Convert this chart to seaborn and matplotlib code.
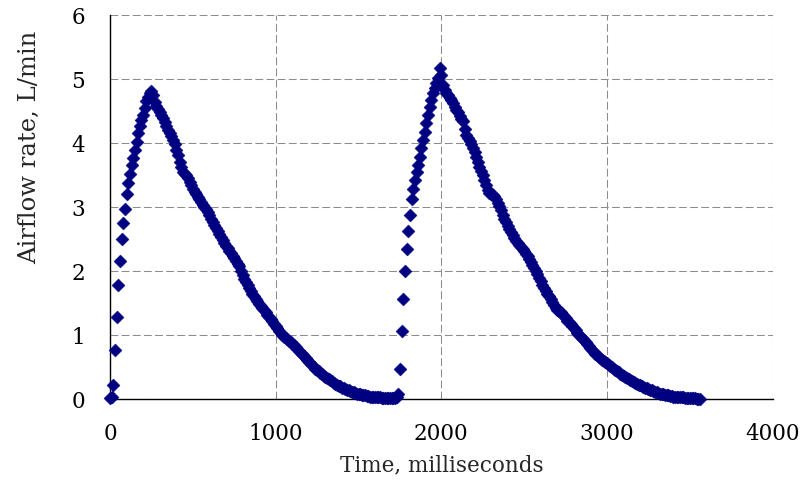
import numpy as np
import pandas as pd
import matplotlib
matplotlib.use("Agg")
import matplotlib.pyplot as plt
import seaborn as sns

# airflow readings, one every 10 ms (each row = 100 ms)
sample_ms = 10
airflow = [
    0.02, 0.04, 0.22, 0.77, 1.29, 1.78, 2.16, 2.50, 2.76, 2.97,   # 0
    3.21, 3.38, 3.52, 3.66, 3.76, 3.89, 4.02, 4.15, 4.26, 4.36,   # 100
    4.44, 4.55, 4.66, 4.72, 4.78, 4.82, 4.75, 4.64, 4.58, 4.53,   # 200
    4.48, 4.44, 4.39, 4.33, 4.27, 4.21, 4.16, 4.11, 4.05, 3.99,   # 300
    3.90, 3.82, 3.71, 3.62, 3.55, 3.52, 3.50, 3.46, 3.40, 3.34,   # 400
    3.29, 3.24, 3.20, 3.16, 3.12, 3.08, 3.04, 3.00, 2.97, 2.92,   # 500
    2.87, 2.82, 2.77, 2.72, 2.67, 2.63, 2.58, 2.54, 2.49, 2.44,   # 600
    2.40, 2.36, 2.32, 2.28, 2.24, 2.20, 2.16, 2.12, 2.08, 2.01,   # 700
    1.94, 1.88, 1.83, 1.78, 1.73, 1.69, 1.65, 1.61, 1.57, 1.53,   # 800
    1.49, 1.46, 1.42, 1.39, 1.36, 1.32, 1.29, 1.26, 1.22, 1.18,   # 900
    1.15, 1.11, 1.07, 1.03, 1.00, 0.98, 0.96, 0.94, 0.91, 0.89,   # 1000
    0.86, 0.84, 0.82, 0.79, 0.76, 0.73, 0.70, 0.67, 0.64, 0.61,   # 1100
    0.58, 0.56, 0.53, 0.51, 0.48, 0.46, 0.44, 0.41, 0.39, 0.37,   # 1200
    0.35, 0.33, 0.31, 0.30, 0.28, 0.26, 0.24, 0.23, 0.21, 0.20,   # 1300
    0.18, 0.17, 0.16, 0.15, 0.14, 0.13, 0.12, 0.11, 0.10, 0.09,   # 1400
    0.08, 0.08, 0.07, 0.06, 0.06, 0.05, 0.05, 0.04, 0.04, 0.04,   # 1500
    0.03, 0.03, 0.03, 0.03, 0.02, 0.02, 0.02, 0.02, 0.02, 0.02,   # 1600
    0.02, 0.02, 0.02, 0.03, 0.08, 0.48, 1.07, 1.56, 2.00, 2.34,   # 1700
    2.63, 2.88, 3.12, 3.29, 3.43, 3.55, 3.66, 3.79, 3.92, 4.05,   # 1800
    4.18, 4.31, 4.44, 4.57, 4.67, 4.78, 4.86, 4.94, 5.02, 5.17,   # 1900
    5.06, 4.90, 4.83, 4.79, 4.75, 4.71, 4.67, 4.62, 4.57, 4.52,   # 2000
    4.48, 4.43, 4.38, 4.34, 4.22, 4.12, 4.08, 4.03, 3.98, 3.92,   # 2100
    3.86, 3.78, 3.70, 3.63, 3.56, 3.50, 3.42, 3.34, 3.26, 3.22,   # 2200
    3.20, 3.19, 3.17, 3.12, 3.07, 3.02, 2.95, 2.88, 2.82, 2.77,   # 2300
    2.71, 2.66, 2.61, 2.56, 2.52, 2.47, 2.44, 2.41, 2.38, 2.34,   # 2400
    2.31, 2.27, 2.23, 2.19, 2.15, 2.10, 2.05, 2.00, 1.95, 1.89,   # 2500
    1.84, 1.79, 1.74, 1.69, 1.65, 1.61, 1.57, 1.52, 1.47, 1.43,   # 2600
    1.40, 1.38, 1.36, 1.33, 1.30, 1.27, 1.23, 1.20, 1.17, 1.14,   # 2700
    1.11, 1.08, 1.04, 1.01, 0.98, 0.95, 0.92, 0.89, 0.86, 0.83,   # 2800
    0.80, 0.77, 0.74, 0.71, 0.69, 0.66, 0.64, 0.62, 0.60, 0.58,   # 2900
    0.56, 0.54, 0.52, 0.50, 0.48, 0.46, 0.44, 0.42, 0.40, 0.38,   # 3000
    0.37, 0.35, 0.33, 0.32, 0.30, 0.29, 0.27, 0.26, 0.24, 0.23,   # 3100
    0.22, 0.21, 0.19, 0.18, 0.17, 0.16, 0.15, 0.14, 0.13, 0.12,   # 3200
    0.11, 0.10, 0.09, 0.08, 0.08, 0.07, 0.06, 0.06, 0.05, 0.05,   # 3300
    0.04, 0.04, 0.04, 0.03, 0.03, 0.03, 0.03, 0.02, 0.02, 0.02,   # 3400
    0.02, 0.02, 0.02, 0.02, 0.01, 0.01, 0.01,                     # 3500
]
time_ms = np.arange(len(airflow)) * sample_ms

x_ticks = [0, 1000, 2000, 3000, 4000]
y_ticks = [0, 1, 2, 3, 4, 5, 6]

df = pd.DataFrame({"time": time_ms, "airflow": airflow})

sns.set_style("white")
plt.rcParams["font.family"] = ["DejaVu Serif"]

fig = plt.figure(figsize=(8.03, 4.84), dpi=100)
ax = fig.add_axes([0.137, 0.175, 0.8253, 0.794])

sns.scatterplot(data=df, x="time", y="airflow", marker="D", s=44,
                color="#000080", edgecolor="#000080", linewidth=0.3,
                ax=ax, zorder=3, clip_on=False, legend=False)

ax.set_xlim(0, 4000)
ax.set_ylim(0, 6)
ax.set_xticks(x_ticks)
ax.set_yticks(y_ticks)

ax.set_axisbelow(True)
ax.grid(True, color="#8c8c8c", linestyle=(0, (7.5, 3.2)), linewidth=0.75)

for side in ["top", "right"]:
    ax.spines[side].set_visible(False)
for side in ["left", "bottom"]:
    ax.spines[side].set_color("black")
    ax.spines[side].set_linewidth(1.0)

ax.tick_params(axis="both", direction="out", length=5, width=1,
               color="black", labelsize=15.5, labelcolor="black")
ax.tick_params(axis="x", pad=12)
ax.tick_params(axis="y", pad=13)

ax.set_xlabel("Time, milliseconds", fontsize=15.5, labelpad=7)
ax.set_ylabel("Airflow rate, L/min", fontsize=17.5)
# excel placed the y title above the axis middle
ax.yaxis.set_label_coords(-0.104, 0.655)

fig.savefig("out.png", dpi=100)
